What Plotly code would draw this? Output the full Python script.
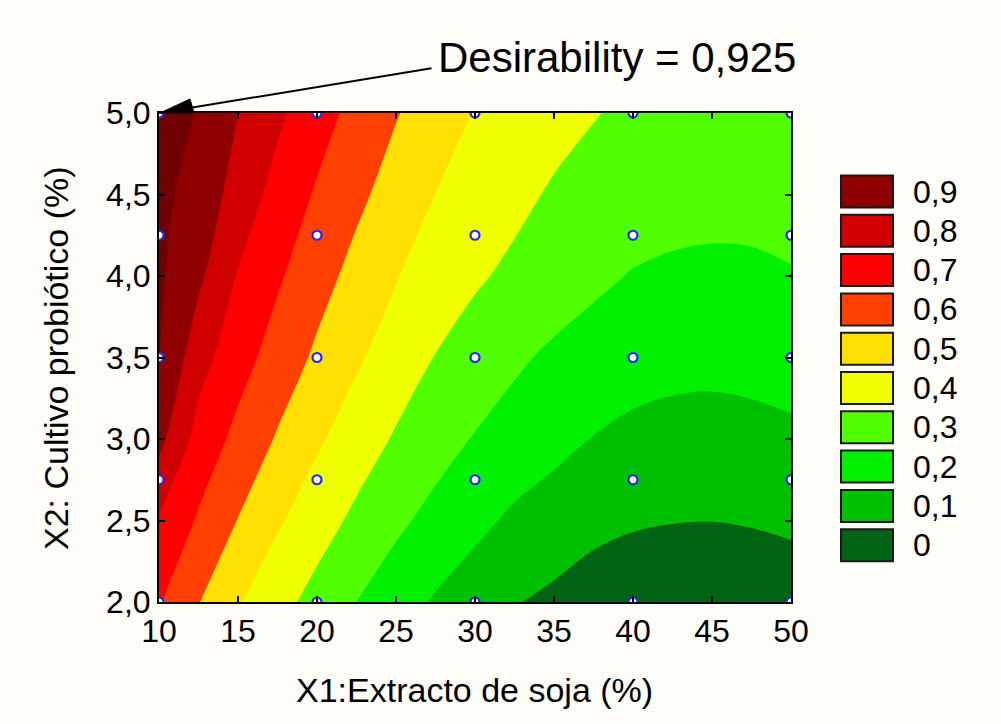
import plotly.graph_objects as go

# ---------------------------------------------------------------------------
# Data
# ---------------------------------------------------------------------------
# Factor grid: X1 = soy extract (%), X2 = probiotic culture (%)
x1_grid = [10, 12.5, 15, 17.5, 20, 22.5, 25, 27.5, 30, 32.5, 35, 37.5, 40, 42.5, 45, 47.5, 50]
x2_grid = [2.0, 2.5, 3.0, 3.5, 4.0, 4.5, 5.0]

# Overall desirability surface, one row per X2 level (values along x1_grid)
d_x2_20 = [0.608, 0.504, 0.408, 0.334, 0.266, 0.200, 0.143, 0.090, 0.047, 0.005, -0.019, -0.044, -0.061, -0.066, -0.067, -0.059, -0.051]
d_x2_25 = [0.690, 0.589, 0.497, 0.413, 0.343, 0.279, 0.220, 0.170, 0.125, 0.082, 0.053, 0.025, 0.010, 0.003, 0.001, 0.006, 0.016]
d_x2_30 = [0.829, 0.663, 0.573, 0.491, 0.415, 0.350, 0.290, 0.240, 0.194, 0.162, 0.129, 0.097, 0.078, 0.068, 0.065, 0.071, 0.082]
d_x2_35 = [0.910, 0.739, 0.639, 0.559, 0.483, 0.414, 0.353, 0.297, 0.256, 0.215, 0.183, 0.157, 0.138, 0.128, 0.125, 0.130, 0.139]
d_x2_40 = [0.915, 0.820, 0.694, 0.613, 0.538, 0.469, 0.405, 0.358, 0.313, 0.279, 0.250, 0.221, 0.194, 0.178, 0.170, 0.176, 0.193]
d_x2_45 = [0.920, 0.870, 0.756, 0.667, 0.589, 0.522, 0.459, 0.399, 0.362, 0.325, 0.288, 0.272, 0.258, 0.250, 0.245, 0.243, 0.243]
d_x2_50 = [0.925, 0.897, 0.800, 0.719, 0.641, 0.570, 0.506, 0.449, 0.396, 0.365, 0.335, 0.304, 0.285, 0.275, 0.268, 0.263, 0.260]
desirability = [d_x2_20, d_x2_25, d_x2_30, d_x2_35, d_x2_40, d_x2_45, d_x2_50]

# Experimental design levels (full 5 x 5 grid of runs)
design_x1_levels = [10, 20, 30, 40, 50]
design_x2_levels = [2.0, 2.75, 3.5, 4.25, 5.0]

# Optimum reported on the chart
optimum_x1 = 10
optimum_x2 = 5.0
optimum_label = "Desirability = 0,925"

# Contour levels and legend entries (top to bottom)
level_start, level_end, level_step = 0.0, 0.9, 0.1
legend_labels = ["0,9", "0,8", "0,7", "0,6", "0,5", "0,4", "0,3", "0,2", "0,1", "0"]

# Axis ticks
x_ticks = [10, 15, 20, 25, 30, 35, 40, 45, 50]
x_tick_labels = ["10", "15", "20", "25", "30", "35", "40", "45", "50"]
y_ticks = [2.0, 2.5, 3.0, 3.5, 4.0, 4.5, 5.0]
y_tick_labels = ["2,0", "2,5", "3,0", "3,5", "4,0", "4,5", "5,0"]

x_title = "X1:Extracto de soja (%)"
y_title = "X2: Cultivo probiótico (%)"

# ---------------------------------------------------------------------------
# Styling
# ---------------------------------------------------------------------------
# Band colours from the lowest band (< 0) up to the highest (> 0.9)
band_colors = ["#006414", "#00c000", "#00f000", "#50ff00", "#f0ff00",
               "#ffe000", "#ff4000", "#ff0000", "#d00000", "#900000", "#700000"]

FONT = "Liberation Sans, Arial, sans-serif"
BG = "#fffdf7"
W, H = 1001, 724
L, R, T, B = 159, 791, 113, 602   # plot area in pixels


def px_x(p):
    return (p - L) / (R - L)


def px_y(p):
    return (B - p) / (B - T)


# Stepped colour scale: each band gets one flat colour
n_bands = len(band_colors)
colorscale = []
for k, c in enumerate(band_colors):
    lo = 0.0 if k == 0 else (k - 0.5) / (n_bands - 1)
    hi = 1.0 if k == n_bands - 1 else (k + 0.5) / (n_bands - 1)
    colorscale += [[lo, c], [hi, c]]

# ---------------------------------------------------------------------------
# Figure
# ---------------------------------------------------------------------------
fig = go.Figure()

fig.add_trace(go.Contour(
    x=x1_grid, y=x2_grid, z=desirability,
    contours=dict(start=level_start, end=level_end, size=level_step, coloring="fill"),
    colorscale=colorscale,
    line=dict(width=0, smoothing=1),
    showscale=False,
    hoverinfo="skip",
))

design_x1 = [a for b in design_x2_levels for a in design_x1_levels]
design_x2 = [b for b in design_x2_levels for a in design_x1_levels]
fig.add_trace(go.Scatter(
    x=design_x1, y=design_x2, mode="markers",
    marker=dict(size=9, color="white", line=dict(color="#2626ff", width=2.2)),
    cliponaxis=True, showlegend=False, hoverinfo="skip",
))

axis_common = dict(
    showline=True, linecolor="black", linewidth=2, mirror="ticks",
    ticks="inside", ticklen=6, tickwidth=2, tickcolor="black",
    showgrid=False, zeroline=False,
    tickfont=dict(family=FONT, size=32, color="black"),
)
fig.update_xaxes(range=[10, 50], tickvals=x_ticks, ticktext=x_tick_labels, **axis_common)
fig.update_yaxes(range=[2, 5], tickvals=y_ticks, ticktext=y_tick_labels, **axis_common)

annotations = [
    dict(text=x_title, x=px_x(474), y=px_y(690), xref="paper", yref="paper",
         xanchor="center", yanchor="middle", showarrow=False,
         font=dict(family=FONT, size=34, color="black")),
    dict(text=y_title, x=px_x(56), y=px_y(358), xref="paper", yref="paper",
         xanchor="center", yanchor="middle", textangle=-90, showarrow=False,
         font=dict(family=FONT, size=34, color="black")),
    dict(text=optimum_label, x=px_x(436), y=px_y(57), xref="paper", yref="paper",
         xanchor="left", yanchor="middle", showarrow=False,
         font=dict(family=FONT, size=42, color="black")),
    # arrow shaft pointing at the optimum
    dict(text="", x=optimum_x1, y=optimum_x2, xref="x", yref="y",
         ax=274, ay=-45, showarrow=True, arrowhead=0,
         arrowwidth=2, arrowcolor="black"),
]

shapes = [
    # arrow head at the optimum corner
    dict(type="path", xref="paper", yref="paper",
         path=(f"M {px_x(160)},{px_y(113)} L {px_x(194)},{px_y(113)} "
               f"L {px_x(190)},{px_y(99)} Z"),
         fillcolor="black", line=dict(color="black", width=1)),
]

# Discrete legend: swatch + level label
for i, lab in enumerate(legend_labels):
    cy = 191.5 + 39.3 * i
    shapes.append(dict(
        type="rect", xref="paper", yref="paper",
        x0=px_x(841), x1=px_x(893), y0=px_y(cy + 16), y1=px_y(cy - 16),
        fillcolor=band_colors[len(legend_labels) - 1 - i],
        line=dict(color="#1a1a1a", width=2),
    ))
    annotations.append(dict(
        text=lab, x=px_x(911), y=px_y(cy), xref="paper", yref="paper",
        xanchor="left", yanchor="middle", showarrow=False,
        font=dict(family=FONT, size=32, color="black"),
    ))

fig.update_layout(
    width=W, height=H,
    margin=dict(l=L, r=W - R, t=T, b=H - B, autoexpand=False),
    paper_bgcolor=BG, plot_bgcolor=BG,
    separators=",.",
    showlegend=False,
    font=dict(family=FONT, color="black"),
    annotations=annotations,
    shapes=shapes,
)

fig.write_html("out.html")
